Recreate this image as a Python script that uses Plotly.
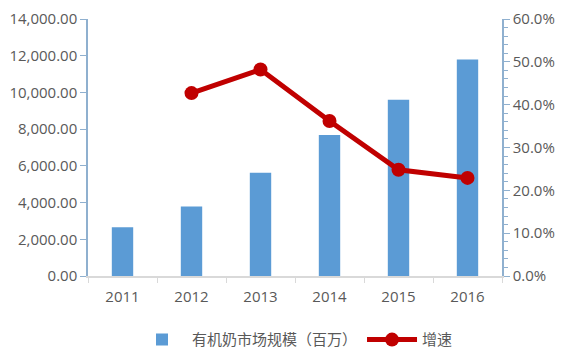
import plotly.graph_objects as go

years = ["2011", "2012", "2013", "2014", "2015", "2016"]
market = [2650, 3780, 5620, 7680, 9600, 11800]
growth_years = ["2012", "2013", "2014", "2015", "2016"]
growth = [0.427, 0.482, 0.362, 0.248, 0.229]

axis_font = dict(family="Open Sans, Liberation Sans, sans-serif", size=15, color="#595959")

fig = go.Figure()
fig.add_trace(go.Bar(x=years, y=market, name="有机奶市场规模（百万）",
                     marker=dict(color="#5b9bd5", line=dict(width=0)), width=0.31))
fig.add_trace(go.Scatter(x=growth_years, y=growth, name="增速", yaxis="y2",
                         mode="lines+markers",
                         line=dict(color="#c00000", width=5),
                         marker=dict(color="#c00000", size=14)))

fig.update_layout(
    width=565, height=354,
    margin=dict(l=88, r=63, t=19, b=78, autoexpand=False),
    plot_bgcolor="white", paper_bgcolor="white",
    showlegend=True,
    legend=dict(orientation="h", x=0.5, xanchor="center", yref="container",
                y=0.04, yanchor="middle",
                font=dict(family="Noto Sans CJK SC", size=15, color="#595959"),
                tracegroupgap=0, itemwidth=50),
    xaxis=dict(type="category", showline=True, linecolor="#d9d9d9", linewidth=2,
               ticks="outside", tickson="boundaries", ticklen=5, tickcolor="#d9d9d9",
               tickfont=axis_font, showgrid=False, ticklabelstandoff=6),
    yaxis=dict(range=[0, 14000], dtick=2000, tickformat=",.2f", showgrid=False,
               showline=True, linecolor="#8fb0cf", linewidth=1.5,
               ticks="outside", ticklen=6, tickcolor="#8fb0cf",
               tickfont=axis_font, zeroline=False),
    yaxis2=dict(range=[0, 0.6], dtick=0.1, tickformat=".1%", overlaying="y", side="right",
                showgrid=False, showline=True, linecolor="#8fb0cf", linewidth=1.5,
                ticks="outside", ticklen=6, tickcolor="#8fb0cf",
                minor=dict(dtick=0.02, ticks="outside", ticklen=4, tickcolor="#8fb0cf"),
                tickfont=axis_font, zeroline=False),
    bargap=0.69,
)

fig.write_html("out.html")
